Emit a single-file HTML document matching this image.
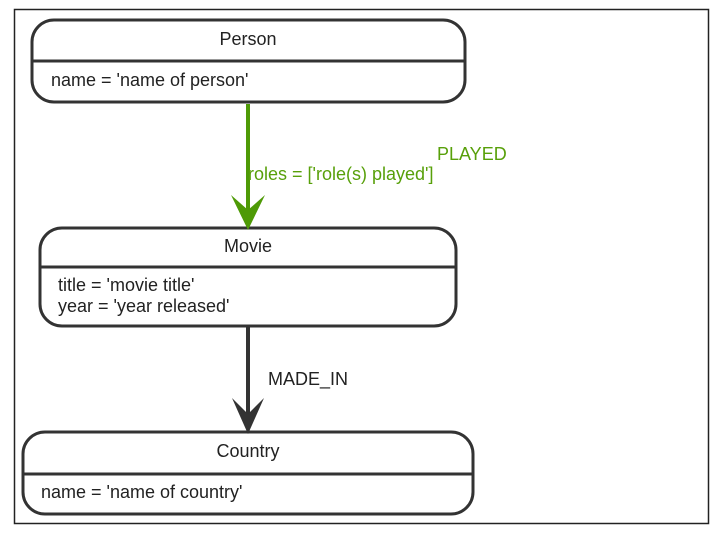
<!DOCTYPE html>
<html><head><style>body{margin:0;background:#fff}svg{display:block}text{font-family:"Liberation Sans",sans-serif;font-size:18px}</style></head><body>
<svg width="715" height="538" viewBox="0 0 715 538">
<rect x="14.5" y="9.5" width="694" height="514" fill="#fff" stroke="#222" stroke-width="1.5"/>
<g fill="#fff" stroke="#333" stroke-width="3">
<rect x="32" y="20" width="433" height="82" rx="22"/>
<line x1="32" y1="61" x2="465" y2="61"/>
<rect x="40" y="228" width="416" height="98" rx="22"/>
<line x1="40" y1="267" x2="456" y2="267"/>
<rect x="23" y="432" width="450" height="82" rx="22"/>
<line x1="23" y1="474" x2="473" y2="474"/>
</g>
<line x1="248" y1="104" x2="248" y2="222" stroke="#4e9a06" stroke-width="4"/>
<path d="M231 195 L248 230 L265 195 L248 210 Z" fill="#4e9a06"/>
<line x1="248" y1="327" x2="248" y2="426" stroke="#333" stroke-width="4"/>
<path d="M232 398 L248 434 L264 398 L248 414 Z" fill="#333"/>
<g fill="#222">
<text x="248" y="45" text-anchor="middle">Person</text>
<text x="51" y="86">name = 'name of person'</text>
<text x="248" y="252" text-anchor="middle">Movie</text>
<text x="58" y="291">title = 'movie title'</text>
<text x="58" y="312">year = 'year released'</text>
<text x="248" y="457" text-anchor="middle">Country</text>
<text x="41" y="498">name = 'name of country'</text>
<text x="268" y="385">MADE_IN</text>
</g>
<g fill="#58a00a">
<text x="248" y="180">roles = ['role(s) played']</text>
<text x="437" y="160">PLAYED</text>
</g>
</svg>
</body></html>
